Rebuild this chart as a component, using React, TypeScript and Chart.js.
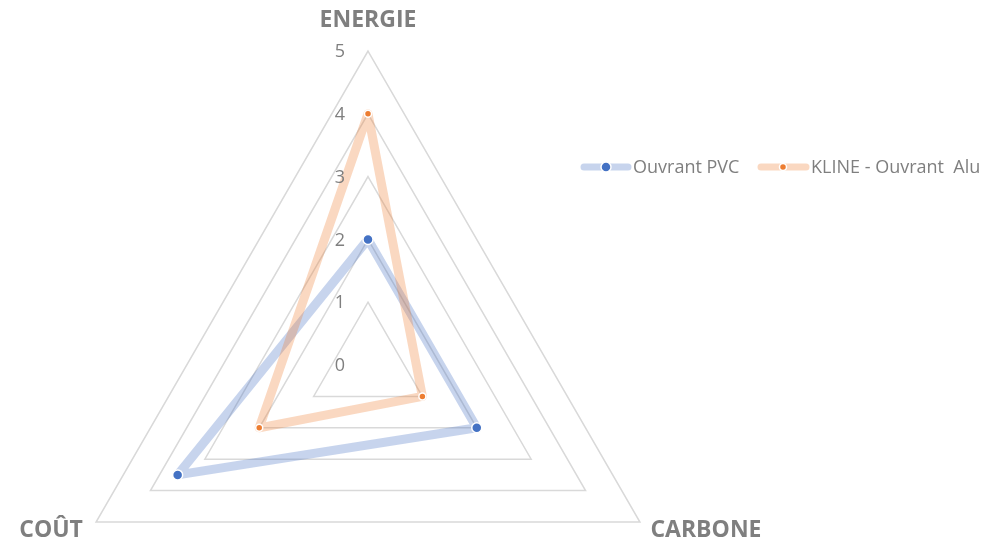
import React, { useEffect, useRef } from "react";
import { Chart, registerables } from "chart.js";

Chart.register(...registerables);

const categories = ["ENERGIE", "CARBONE", "COÛT"];
const seriesNames = ["Ouvrant PVC", "KLINE - Ouvrant  Alu"];
const pvcValues = [2, 2, 3.5];
const aluValues = [4, 1, 2];
const tickValues = [0, 1, 2, 3, 4, 5];

const lineColors = ["rgba(68,114,196,0.3)", "rgba(237,125,49,0.3)"];
const markerColors = ["#4472C4", "#ED7D31"];
const markerRadii = [5, 3.5];

const FONT = "'Open Sans', 'Noto Sans', sans-serif";

const radarPlugin = {
  id: "radarLayout",
  afterLayout(chart: any) {
    const s = chart.scales.r;
    s.xCenter = 368;
    s.yCenter = 365;
    s.drawingArea = 314;
  },
  afterDraw(chart: any) {
    const s = chart.scales.r;
    const ctx = chart.ctx as CanvasRenderingContext2D;
    ctx.save();
    // tick labels
    ctx.fillStyle = "#7F7F7F";
    ctx.font = `18px ${FONT}`;
    ctx.textAlign = "center";
    ctx.textBaseline = "middle";
    tickValues.forEach((v) => {
      const r = s.getDistanceFromCenterForValue(v);
      ctx.fillText(String(v), s.xCenter - 28, s.yCenter - r + 1);
    });
    // point labels
    ctx.font = `bold 23px ${FONT}`;
    const offsets = [
      [0, -31],
      [66, 8],
      [-45, 8],
    ];
    categories.forEach((c, i) => {
      const p = s.getPointPosition(i, s.drawingArea);
      ctx.fillText(c, p.x + offsets[i][0], p.y + offsets[i][1]);
    });
    // legend
    const legendY = 167;
    const items = [
      { x0: 584, x1: 628, mx: 606, tx: 633 },
      { x0: 761, x1: 806, mx: 783, tx: 811 },
    ];
    ctx.font = `18px ${FONT}`;
    ctx.textAlign = "left";
    items.forEach((it, i) => {
      ctx.strokeStyle = lineColors[i];
      ctx.lineWidth = 7;
      ctx.lineCap = "round";
      ctx.beginPath();
      ctx.moveTo(it.x0, legendY);
      ctx.lineTo(it.x1, legendY);
      ctx.stroke();
      ctx.beginPath();
      ctx.arc(it.mx, legendY, markerRadii[i], 0, Math.PI * 2);
      ctx.fillStyle = markerColors[i];
      ctx.fill();
      ctx.lineWidth = 1.5;
      ctx.strokeStyle = "#FFFFFF";
      ctx.stroke();
      ctx.fillStyle = "#7F7F7F";
      ctx.fillText(seriesNames[i], it.tx, legendY + 1);
    });
    ctx.restore();
  },
};

export default function App() {
  const canvasRef = useRef<HTMLCanvasElement>(null);

  useEffect(() => {
    if (!canvasRef.current) return;
    const chart = new Chart(canvasRef.current, {
      type: "radar",
      data: {
        labels: categories,
        datasets: [
          {
            label: seriesNames[0],
            data: pvcValues,
            borderColor: lineColors[0],
            borderWidth: 9,
            borderJoinStyle: "round",
            borderCapStyle: "round",
            backgroundColor: "transparent",
            fill: false,
            pointBackgroundColor: markerColors[0],
            pointBorderColor: "#FFFFFF",
            pointBorderWidth: 1.5,
            pointRadius: markerRadii[0],
            tension: 0,
            order: 1,
          },
          {
            label: seriesNames[1],
            data: aluValues,
            borderColor: lineColors[1],
            borderWidth: 9,
            borderJoinStyle: "round",
            borderCapStyle: "round",
            backgroundColor: "transparent",
            fill: false,
            pointBackgroundColor: markerColors[1],
            pointBorderColor: "#FFFFFF",
            pointBorderWidth: 1.5,
            pointRadius: markerRadii[1],
            tension: 0,
            order: 0,
          },
        ],
      },
      options: {
        animation: false,
        responsive: true,
        maintainAspectRatio: false,
        plugins: {
          legend: { display: false },
          tooltip: { enabled: false },
        },
        scales: {
          r: {
            min: 0,
            max: 5,
            ticks: { stepSize: 1, display: false },
            grid: { color: "#D9D9D9", lineWidth: 1.5 },
            angleLines: { display: false },
            pointLabels: { display: false },
          },
        },
      },
      plugins: [radarPlugin],
    });
    return () => chart.destroy();
  }, []);

  return (
    <div
      style={{
        position: "fixed",
        left: 0,
        top: 0,
        width: 1007,
        height: 539,
        background: "#FFFFFF",
      }}
    >
      <canvas ref={canvasRef} />
    </div>
  );
}
